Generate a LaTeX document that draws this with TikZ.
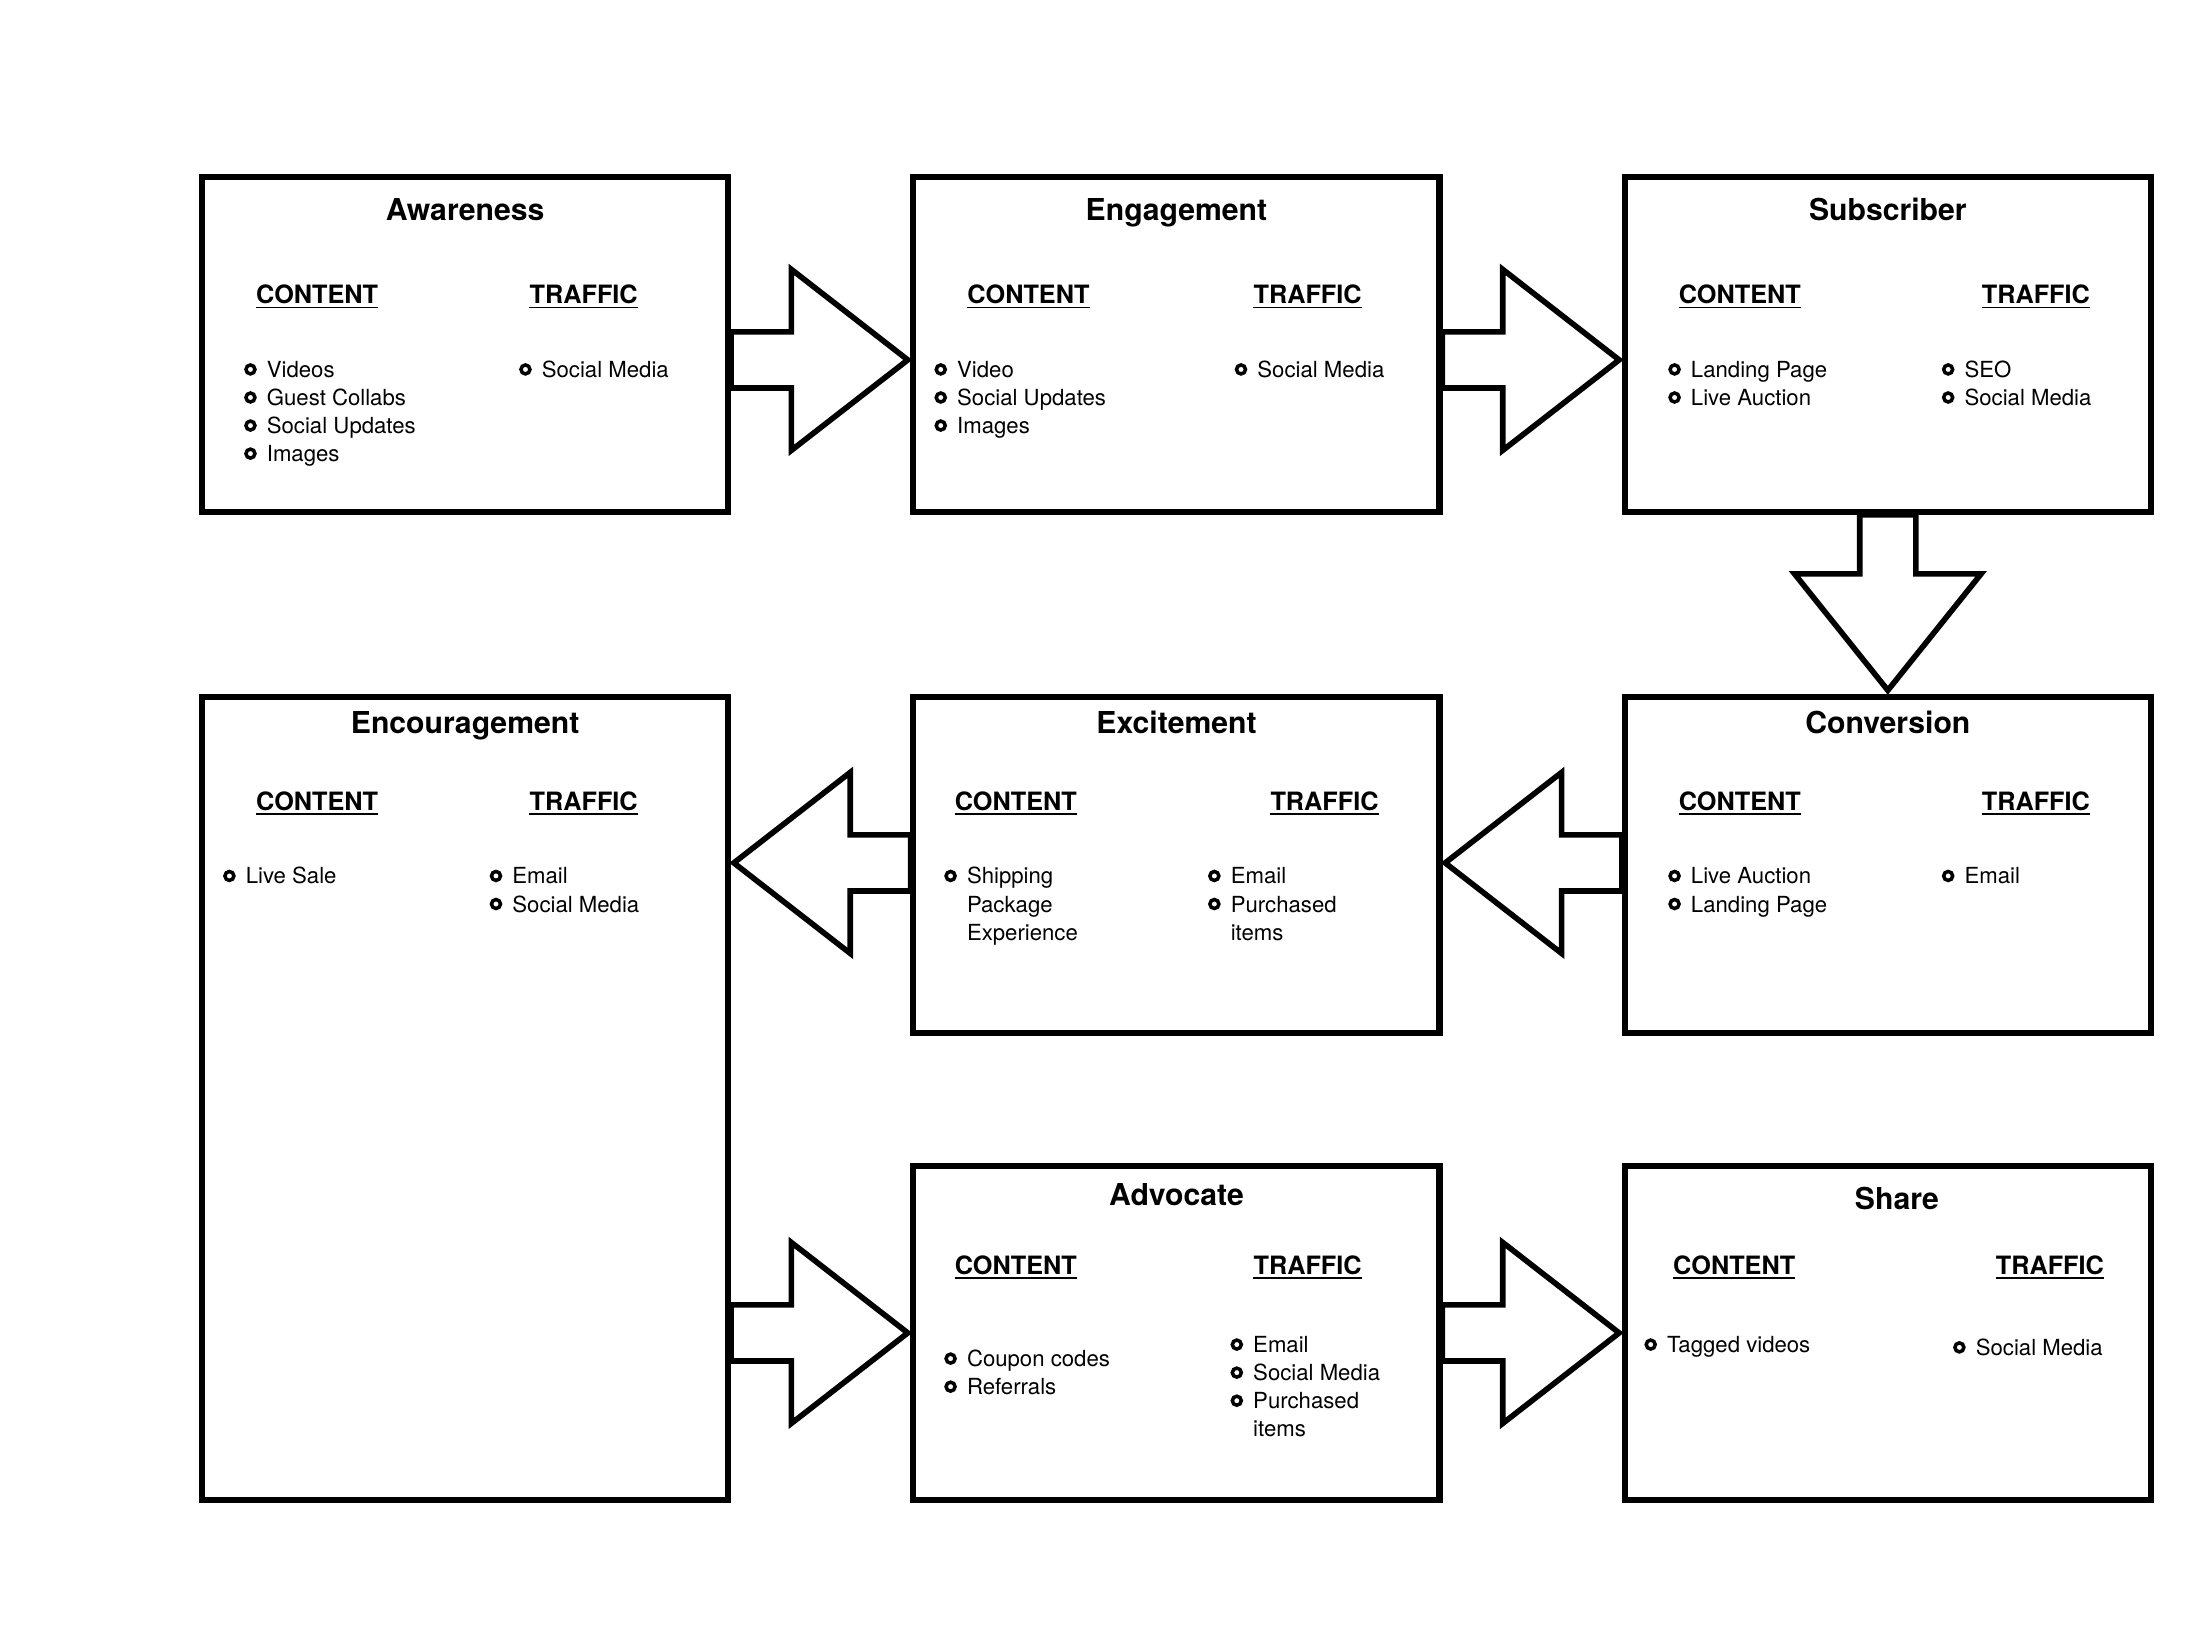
\documentclass[tikz,border=0pt]{standalone}
\usepackage{fontspec}
\setmainfont{TeX Gyre Heros}
\usetikzlibrary{calc}
\tikzset{
  box/.style={draw, line width=4.4pt, rectangle, inner sep=0pt, outer sep=0pt, minimum width=375pt},
  blk/.style={draw, fill=white, line width=4pt, line join=miter, miter limit=10},
  itm/.style={anchor=base west, inner sep=0pt, font=\fontsize{15.8pt}{20pt}\selectfont},
  hdg/.style={anchor=base, inner sep=0pt, font=\fontsize{18pt}{22pt}\selectfont\bfseries},
  ttl/.style={anchor=base, inner sep=0pt, font=\fontsize{21.5pt}{26pt}\selectfont\bfseries},
  bul/.style={draw, line width=2.5pt}
}
\newcommand\bitem[4]{%
  \node[itm] (#1) at (#2,#3) {#4};
  \draw[bul] ([xshift=-11.5pt,yshift=5.7pt]#1.base west) circle[radius=3.2pt];
}
\newcommand\citem[4]{\node[itm] (#1) at (#2,#3) {#4};}
\newcommand\hd[4]{%
  \node[hdg] (#1) at (#2,#3) {#4};
  \draw[line width=1.3pt] ([yshift=-2.6pt]#1.base west) -- ([yshift=-2.6pt]#1.base east);
}
\newcommand\rarrow[1]{\draw[blk,shift={#1}] (0,-20) -- (43,-20) -- (43,-64.5) -- (126,0) -- (43,64.5) -- (43,20) -- (0,20) -- cycle;}
\newcommand\larrow[1]{\draw[blk,shift={#1}] (0,-20) -- (-43,-20) -- (-43,-64.5) -- (-126,0) -- (-43,64.5) -- (-43,20) -- (0,20) -- cycle;}
\newcommand\darrow[1]{\draw[blk,shift={#1}] (-20,0) -- (-20,42) -- (-66.5,42) -- (0,125) -- (66.5,42) -- (20,42) -- (20,0) -- cycle;}
\begin{document}
\begin{tikzpicture}[x=1pt,y=-1pt]
\useasboundingbox (0,0) rectangle (1568,1176);
\fill[white] (0,0) rectangle (1568,1176);

% boxes
\node[box, minimum height=239pt] (aw)   at (331.5,245.5) {};
\node[box, minimum height=239pt] (en)   at (838.5,245.5) {};
\node[box, minimum height=239pt] (sub)  at (1345.5,245.5) {};
\node[box, minimum height=572pt] (enc)  at (331.5,783) {};
\node[box, minimum height=239pt] (exc)  at (838.5,616.5) {};
\node[box, minimum height=239pt] (conv) at (1345.5,616.5) {};
\node[box, minimum height=238pt] (adv)  at (838.5,950) {};
\node[box, minimum height=238pt] (sh)   at (1345.5,950) {};

% block arrows
\rarrow{($(aw.east)+(2,11)$)}
\rarrow{($(en.east)+(2,11)$)}
\darrow{($(sub.south)+(0,2)$)}
\larrow{($(conv.west)+(-2,-1.5)$)}
\larrow{($(exc.west)+(-2,-1.5)$)}
\rarrow{($(enc.east |- adv.west)+(2,0)$)}
\rarrow{($(adv.east)+(2,0)$)}

% Awareness
\node[ttl] (awt) at (331.5,157) {Awareness};
\hd{awc}{226}{216.5}{CONTENT}
\hd{awf}{416}{216.5}{TRAFFIC}
\bitem{aw1}{190}{269}{Videos}
\bitem{aw2}{190}{289}{Guest Collabs}
\bitem{aw3}{190}{309}{Social Updates}
\bitem{aw4}{190}{329}{Images}
\bitem{aw5}{386}{269}{Social Media}

% Engagement
\node[ttl] (ent) at (838.5,157) {Engagement};
\hd{enc1}{733}{216.5}{CONTENT}
\hd{enf}{932}{216.5}{TRAFFIC}
\bitem{en1}{682}{269}{Video}
\bitem{en2}{682}{289}{Social Updates}
\bitem{en3}{682}{309}{Images}
\bitem{en4}{896}{269}{Social Media}

% Subscriber
\node[ttl] (subt) at (1345.5,157) {Subscriber};
\hd{subc}{1240}{216.5}{CONTENT}
\hd{subf}{1451}{216.5}{TRAFFIC}
\bitem{sub1}{1205}{269}{Landing Page}
\bitem{sub2}{1205}{289}{Live Auction}
\bitem{sub3}{1400}{269}{SEO}
\bitem{sub4}{1400}{289}{Social Media}

% Encouragement
\node[ttl] (enct) at (331.5,523) {Encouragement};
\hd{encc}{226}{577.5}{CONTENT}
\hd{encf}{416}{577.5}{TRAFFIC}
\bitem{enc1}{175}{630}{Live Sale}
\bitem{enc2}{365}{630}{Email}
\bitem{enc3}{365}{650}{Social Media}

% Excitement
\node[ttl] (exct) at (838.5,523) {Excitement};
\hd{excc}{724}{577.5}{CONTENT}
\hd{excf}{944}{577.5}{TRAFFIC}
\bitem{exc1}{689}{630}{Shipping}
\citem{exc2}{689}{650}{Package}
\citem{exc3}{689}{670}{Experience}
\bitem{exc4}{877}{630}{Email}
\bitem{exc5}{877}{650}{Purchased}
\citem{exc6}{877}{670}{items}

% Conversion
\node[ttl] (convt) at (1345.5,523) {Conversion};
\hd{convc}{1240}{577.5}{CONTENT}
\hd{convf}{1451}{577.5}{TRAFFIC}
\bitem{conv1}{1205}{630}{Live Auction}
\bitem{conv2}{1205}{650}{Landing Page}
\bitem{conv3}{1400}{630}{Email}

% Advocate
\node[ttl] (advt) at (838.5,859) {Advocate};
\hd{advc}{724}{908.5}{CONTENT}
\hd{advf}{932}{908.5}{TRAFFIC}
\bitem{adv1}{689}{974}{Coupon codes}
\bitem{adv2}{689}{994}{Referrals}
\bitem{adv3}{893}{964}{Email}
\bitem{adv4}{893}{984}{Social Media}
\bitem{adv5}{893}{1004}{Purchased}
\citem{adv6}{893}{1024}{items}

% Share
\node[ttl] (sht) at (1352,862) {Share};
\hd{shc}{1236}{908.5}{CONTENT}
\hd{shf}{1461}{908.5}{TRAFFIC}
\bitem{sh1}{1188}{964}{Tagged videos}
\bitem{sh2}{1408}{966}{Social Media}
\end{tikzpicture}
\end{document}
